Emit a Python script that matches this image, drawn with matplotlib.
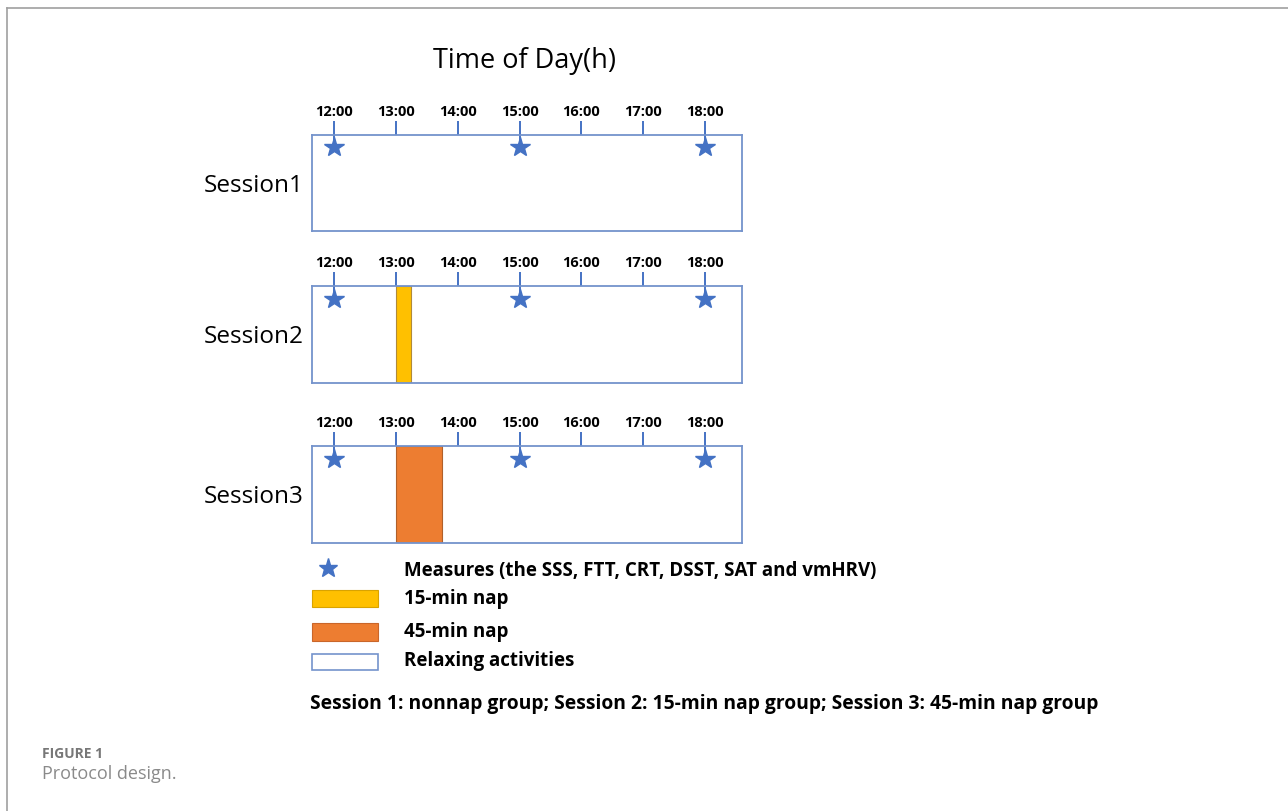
import matplotlib.pyplot as plt
from matplotlib.patches import Rectangle

plt.rcParams['font.family'] = ['Open Sans', 'DejaVu Sans']

# --- data ---
sessions = ["Session1", "Session2", "Session3"]
hours = [12, 13, 14, 15, 16, 17, 18]
hour_labels = ["12:00", "13:00", "14:00", "15:00", "16:00", "17:00", "18:00"]
measure_hours = [12, 15, 18]
nap_start = [None, 13.0, 13.0]
nap_length_h = [0, 0.25, 0.75]
nap_colors = [None, "#FFC000", "#ED7D31"]
legend_labels = ["Measures (the SSS, FTT, CRT, DSST, SAT and vmHRV)",
                 "15-min nap", "45-min nap", "Relaxing activities"]
note = "Session 1: nonnap group; Session 2: 15-min nap group; Session 3: 45-min nap group"

W, H = 1288, 812
blue = "#4472C4"
edge = "#7493CC"

fig = plt.figure(figsize=(W / 100, H / 100), dpi=100)

# overlay axes in pixel coords for frame, titles, legend
bg = fig.add_axes([0, 0, 1, 1])
bg.set_xlim(0, W)
bg.set_ylim(H, 0)
bg.axis("off")
bg.plot([7, 7], [9, H], color="#a0a0a0", lw=1.2)
bg.plot([7, W], [9, 9], color="#a0a0a0", lw=1.2)

# session box positions (pixels: top, bottom)
box_y = [(136, 232), (287, 384), (447, 544)]
x_left, x_right = 312, 742
xlim = (11.64, 18.6)

for i, name in enumerate(sessions):
    top, bot = box_y[i]
    ax = fig.add_axes([x_left / W, 1 - bot / H, (x_right - x_left) / W, (bot - top) / H])
    ax.set_xlim(*xlim)
    ax.set_ylim(0, 1)
    for s in ax.spines.values():
        s.set_color(edge)
        s.set_linewidth(1.3)
    ax.xaxis.tick_top()
    ax.set_xticks(hours)
    ax.set_xticklabels(hour_labels, fontweight="bold", fontsize=10.5)
    ax.tick_params(axis="x", direction="out", length=10, width=1.4, color=blue, pad=2)
    ax.set_yticks([])
    # longer ticks at measure times
    ax.vlines(measure_hours, 0.88, 1.0, color=blue, lw=1.4)
    ax.plot(measure_hours, [0.87] * len(measure_hours), linestyle="none",
            marker="*", ms=15, color=blue, clip_on=False, zorder=5)
    if nap_start[i] is not None:
        ax.bar(nap_start[i], 1, width=nap_length_h[i], align="edge",
               color=nap_colors[i], edgecolor="#B08A3A" if i == 1 else "#B0602A",
               lw=0.8, zorder=1)
    bg.text(304, (top + bot) / 2 + 2, name, ha="right", va="center", fontsize=17.5)

bg.text(525, 61, "Time of Day(h)", ha="center", va="center", fontsize=19.5)

# legend
bg.plot(328, 569, marker="*", ms=14, color=blue, linestyle="none")
bg.add_patch(Rectangle((312, 591), 66, 17, facecolor="#FFC000", edgecolor="#D9A300", lw=0.8))
bg.add_patch(Rectangle((312, 624), 66, 18, facecolor="#ED7D31", edgecolor="#C9662A", lw=0.8))
bg.add_patch(Rectangle((312, 655), 66, 16, facecolor="white", edgecolor=edge, lw=1.2))
for y, lab in zip([571, 599, 632, 661], legend_labels):
    bg.text(404, y, lab, ha="left", va="center", fontsize=13.5, fontweight="bold")

bg.text(310, 704, note, ha="left", va="center", fontsize=13.9, fontweight="bold")

bg.text(42, 754, "FIGURE 1", ha="left", va="center", fontsize=10, color="#777777", fontweight="bold")
bg.text(42, 774, "Protocol design.", ha="left", va="center", fontsize=13, color="#8a8a8a")

fig.savefig("out.png", dpi=100)
